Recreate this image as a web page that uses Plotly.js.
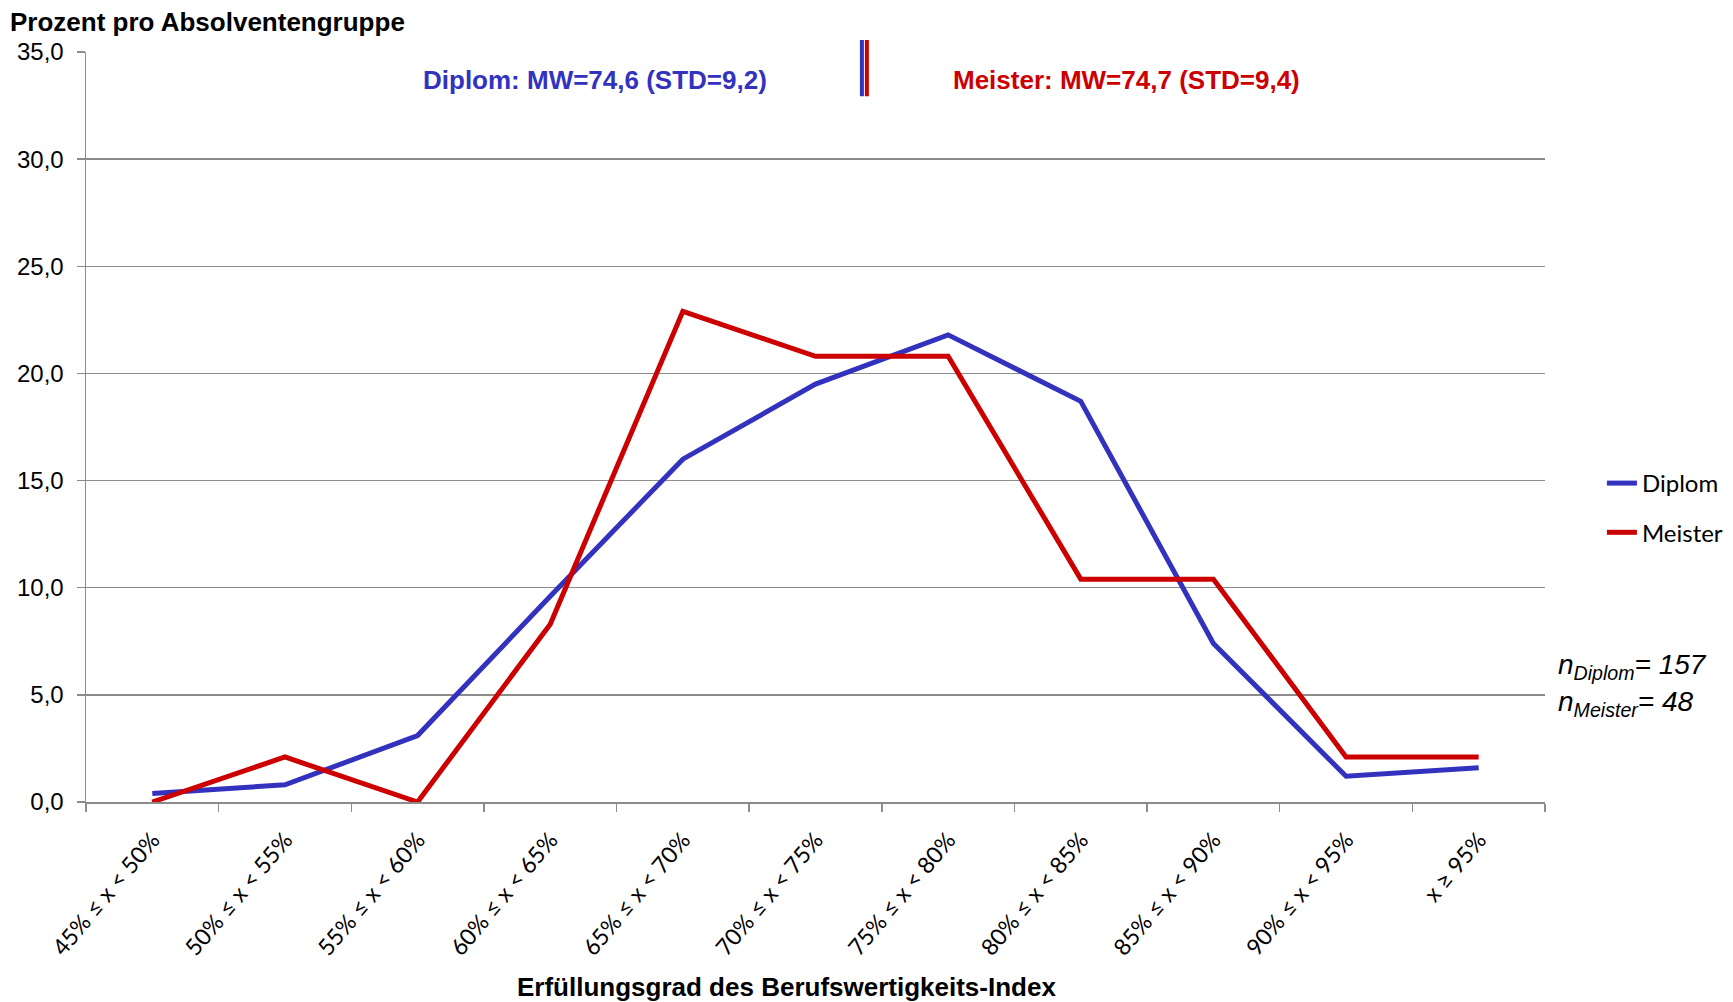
<!DOCTYPE html>
<html>
<head>
<meta charset="utf-8">
<script src="https://cdn.plot.ly/plotly-3.0.1.min.js"></script>
<style>html,body{margin:0;padding:0;background:#fff}#chart{width:1733px;height:1002px}</style>
</head>
<body>
<div id="chart"></div>
<script>
const categories = ["45% ≤ x < 50%","50% ≤ x < 55%","55% ≤ x < 60%","60% ≤ x < 65%","65% ≤ x < 70%","70% ≤ x < 75%","75% ≤ x < 80%","80% ≤ x < 85%","85% ≤ x < 90%","90% ≤ x < 95%","x ≥ 95%"];
const diplom = [0.4, 0.8, 3.1, 9.6, 16.0, 19.5, 21.8, 18.7, 7.4, 1.2, 1.6];
const meister = [0.0, 2.1, 0.0, 8.3, 22.9, 20.8, 20.8, 10.4, 10.4, 2.1, 2.1];
const seriesNames = ["Diplom", "Meister"];
const nValues = [157, 48];
const meanText = ["Diplom: MW=74,6 (STD=9,2)", "Meister: MW=74,7 (STD=9,4)"];
const yTicks = [0, 5, 10, 15, 20, 25, 30, 35];

const BLUE = "#3232BE", RED = "#CC0000", GRID = "#8c8c8c";
const ARIAL = "'Liberation Sans', Arial, sans-serif";
const tickFont = {family: "Lato, 'Open Sans', sans-serif", size: 23, color: "#000"};

const traces = [
  {x: categories, y: diplom, name: seriesNames[0], type: "scatter", mode: "lines",
   line: {color: BLUE, width: 5}, legendgroup: "a"},
  {x: categories, y: meister, name: seriesNames[1], type: "scatter", mode: "lines",
   line: {color: RED, width: 5}, legendgroup: "b"}
];

const layout = {
  width: 1733, height: 1002,
  margin: {l: 86, r: 188, t: 52, b: 200, autoexpand: false},
  paper_bgcolor: "#fff", plot_bgcolor: "#fff",
  separators: ",.",
  showlegend: true,
  title: {text: "<b>Prozent pro Absolventengruppe</b>", xref: "container", yref: "container",
          x: 10/1733, xanchor: "left", y: 1 - 22/1002, yanchor: "middle",
          font: {family: ARIAL, size: 26, color: "#000"}},
  legend: {x: 1.039, xanchor: "left", y: 0.392, yanchor: "middle", traceorder: "grouped",
           tracegroupgap: 15, font: {family: "Lato, sans-serif", size: 24, color: "#000"},
           bgcolor: "rgba(0,0,0,0)"},
  xaxis: {type: "category", tickangle: -50, tickfont: tickFont, showgrid: false,
          showline: true, linecolor: GRID, linewidth: 1.5, ticks: "outside", ticklen: 8,
          tickcolor: GRID, tickwidth: 1.5, tickson: "boundaries", zeroline: false,
          ticklabelstandoff: 14, automargin: false,
          range: [-0.5, categories.length - 0.5], fixedrange: true},
  yaxis: {range: [0, 35], tickvals: yTicks, tickformat: ".1f", showgrid: true,
          gridcolor: GRID, gridwidth: 1.5, showline: true, linecolor: GRID, linewidth: 1.5,
          ticks: "outside", ticklen: 8, tickcolor: GRID, tickwidth: 1.5, zeroline: false,
          ticklabelstandoff: 8, automargin: false,
          tickfont: {family: ARIAL, size: 24, color: "#000"},
          fixedrange: true},
  shapes: [
    {type: "line", xref: "paper", yref: "paper", x0: 0.5318, x1: 0.5318, y0: 0.941, y1: 1.016,
     line: {color: BLUE, width: 4}},
    {type: "line", xref: "paper", yref: "paper", x0: 0.5352, x1: 0.5352, y0: 0.941, y1: 1.016,
     line: {color: RED, width: 4}}
  ],
  annotations: [
    {text: "<b>" + meanText[0] + "</b>", xref: "paper", yref: "paper", x: 0.349, y: 0.963,
     xanchor: "center", yanchor: "middle", showarrow: false,
     font: {family: ARIAL, size: 26, color: BLUE}},
    {text: "<b>" + meanText[1] + "</b>", xref: "paper", yref: "paper", x: 0.713, y: 0.963,
     xanchor: "center", yanchor: "middle", showarrow: false,
     font: {family: ARIAL, size: 26, color: RED}},
    {text: "<i>n<sub>" + seriesNames[0] + "</sub>= " + nValues[0] + "</i>", xref: "paper", yref: "paper",
     x: 1.0075, y: 0.181, xanchor: "left", yanchor: "middle", showarrow: false,
     font: {family: ARIAL, size: 28, color: "#000"}},
    {text: "<i>n<sub>" + seriesNames[1] + "</sub>= " + nValues[1] + "</i>", xref: "paper", yref: "paper",
     x: 1.0075, y: 0.131, xanchor: "left", yanchor: "middle", showarrow: false,
     font: {family: ARIAL, size: 28, color: "#000"}},
    {text: "<b>Erfüllungsgrad des Berufswertigkeits-Index</b>", xref: "paper", yref: "paper",
     x: 0.48, y: -0.247, xanchor: "center", yanchor: "middle", showarrow: false,
     font: {family: ARIAL, size: 26, color: "#000"}}
  ]
};

Plotly.newPlot("chart", traces, layout, {displayModeBar: false, staticPlot: true});
</script>
</body>
</html>
